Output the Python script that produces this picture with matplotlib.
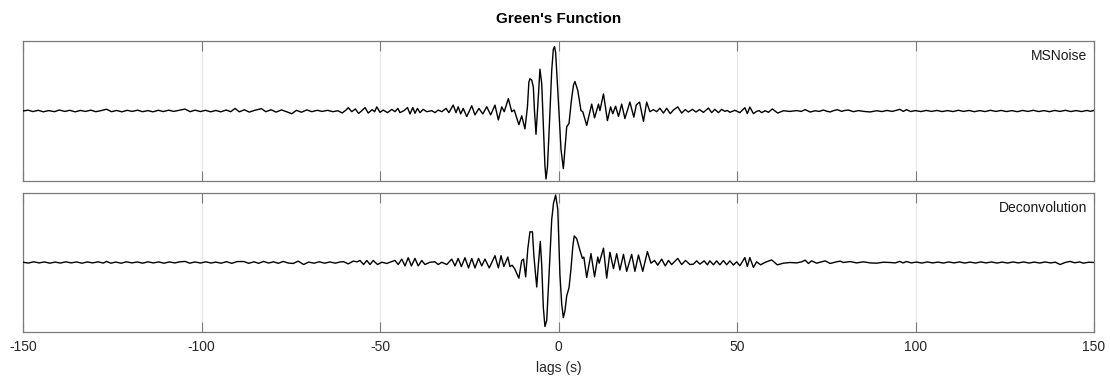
import matplotlib
matplotlib.use("Agg")
import matplotlib.pyplot as plt

plt.rcParams['font.family'] = ['Liberation Sans', 'DejaVu Sans']
plt.rcParams['axes.unicode_minus'] = False

# ---------------- data: (lag [s], normalised amplitude) ----------------
xticks = [-150, -100, -50, 0, 50, 100, 150]
panel_names = ["MSNoise", "Deconvolution"]

msn_far_left = [(-150.0, 0.0), (-148.6, 0.012), (-147.2, -0.008), (-145.7, 0.010), (-144.3, -0.012),
    (-142.8, 0.006), (-141.2, -0.010), (-139.8, 0.014), (-138.3, -0.006), (-136.9, 0.010),
    (-135.4, -0.012), (-133.9, 0.008), (-132.5, -0.006), (-131.0, 0.012), (-129.6, -0.010),
    (-128.1, 0.006), (-126.6, 0.026), (-125.2, -0.010), (-123.8, 0.008), (-122.3, -0.012),
    (-120.8, 0.010), (-119.4, -0.006), (-117.9, 0.012), (-116.5, -0.010), (-115.0, 0.006),
    (-113.6, -0.012), (-112.1, 0.010), (-110.7, -0.008), (-109.2, 0.012), (-107.8, -0.006),
    (-106.3, 0.010), (-104.6, 0.028), (-103.2, -0.010), (-101.8, 0.012), (-100.3, -0.008),
    (-98.9, 0.010), (-97.4, -0.012), (-96.0, 0.008)]
msn_left = [(-94.6, -0.012), (-93.1, 0.014), (-91.8, -0.010), (-90.6, 0.038), (-89.4, -0.012),
    (-88.0, 0.018), (-86.6, -0.016), (-85.1, 0.010), (-83.2, 0.034), (-82.0, -0.010),
    (-80.5, 0.018), (-79.1, -0.016), (-77.6, 0.016), (-76.2, -0.010), (-74.7, -0.040),
    (-73.4, 0.010), (-72.0, -0.018), (-70.5, 0.016), (-69.1, -0.010), (-67.6, 0.010),
    (-66.2, -0.006), (-64.7, 0.010), (-63.2, -0.010), (-61.8, 0.004), (-60.6, -0.028),
    (-59.6, 0.010), (-58.9, 0.048), (-57.9, -0.010), (-56.9, 0.030), (-56.0, -0.036),
    (-55.1, 0.004), (-54.2, 0.050), (-53.3, -0.030), (-52.2, 0.020), (-51.5, -0.010),
    (-50.9, 0.060), (-50.0, -0.020)]
msn_precursor = [(-49.1, 0.014), (-47.9, -0.024), (-46.7, 0.024), (-45.8, -0.010), (-45.0, 0.038),
    (-44.4, -0.024), (-43.3, 0.005), (-42.3, 0.050), (-41.6, -0.043), (-40.8, 0.050),
    (-40.2, -0.033), (-39.5, 0.038), (-38.8, -0.024), (-37.9, 0.024), (-36.9, -0.010),
    (-35.5, 0.005), (-34.6, -0.024), (-33.7, 0.014), (-32.7, -0.010), (-31.5, 0.038),
    (-30.7, -0.024), (-29.5, 0.086), (-28.7, -0.024), (-28.1, 0.062), (-27.4, -0.043),
    (-26.7, 0.038), (-25.7, -0.081), (-24.3, 0.076), (-23.4, -0.057), (-22.3, 0.038),
    (-21.2, -0.043), (-20.1, 0.062), (-19.0, -0.057), (-17.8, 0.086)]
msn_main = [(-16.85, -0.13), (-15.9, 0.06), (-15.2, -0.01), (-14.05, 0.18), (-13.1, -0.01),
    (-12.4, 0.015), (-11.1, -0.20), (-10.3, -0.07), (-9.4, -0.26), (-8.7, 0.06), (-8.3, 0.42),
    (-8.0, 0.47), (-7.5, 0.45), (-7.05, 0.35), (-6.75, 0.02), (-6.3, -0.34), (-5.75, 0.12),
    (-5.2, 0.61), (-4.7, 0.40), (-4.25, -0.20), (-3.8, -0.80), (-3.5, -0.99), (-3.1, -0.82),
    (-2.55, -0.20), (-1.9, 0.59), (-1.45, 0.90), (-1.1, 0.94), (-0.8, 0.85), (-0.05, 0.16),
    (0.7, -0.56), (1.36, -0.84), (1.8, -0.56), (2.3, -0.23), (2.95, -0.18), (3.6, 0.15),
    (4.2, 0.38), (4.6, 0.43), (5.4, 0.30), (6.3, 0.005), (6.8, -0.01), (7.9, -0.21),
    (9.3, 0.10), (10.1, -0.10), (11.2, 0.10), (11.6, 0.005), (12.6, 0.25), (13.7, -0.14),
    (14.6, 0.06), (15.2, -0.04), (16.0, 0.07), (16.8, -0.08), (17.7, 0.10), (18.6, -0.11),
    (20.0, 0.13), (21.1, -0.09), (21.8, 0.09), (22.7, 0.13), (23.8, -0.15), (24.7, 0.13),
    (25.6, -0.01), (26.6, 0.02), (27.5, -0.01), (28.4, 0.04), (29.4, -0.03), (30.3, 0.04),
    (31.3, -0.04), (32.2, 0.015), (33.4, 0.06), (34.5, -0.03), (35.5, 0.02), (36.4, -0.015),
    (37.5, 0.024)]
msn_coda = [(38.5, -0.015), (39.5, 0.020), (40.6, -0.020), (42.0, 0.043), (42.9, -0.024),
    (43.8, 0.024), (44.8, -0.024), (45.7, 0.024), (46.6, -0.005), (47.3, 0.008), (48.0, -0.019),
    (49.4, 0.010), (50.8, -0.024), (52.2, 0.048), (52.9, -0.038), (53.6, 0.057), (54.6, -0.038),
    (55.5, -0.005), (56.2, 0.006), (56.9, -0.024), (57.9, 0.004), (58.8, -0.019), (59.9, 0.030),
    (61.4, -0.030)]
msn_far_right = [(63.0, 0.004), (64.8, -0.006), (66.7, 0.006), (68.0, -0.006), (69.1, 0.020),
    (70.5, -0.015), (71.9, 0.004), (73.0, -0.006), (74.2, 0.014), (75.2, -0.004), (76.1, -0.014),
    (77.1, 0.006), (78.1, 0.019), (79.3, -0.005), (80.2, 0.008), (81.2, 0.014), (82.6, -0.010),
    (84.0, 0.006), (85.5, -0.006), (87.3, -0.014), (89.1, 0.004), (90.6, -0.008), (92.0, 0.008),
    (93.5, -0.006), (94.6, 0.010), (95.6, 0.024), (96.6, -0.006), (97.5, 0.020), (98.6, -0.008),
    (100.0, 0.006), (101.5, -0.008), (103.0, 0.008), (104.5, -0.006), (106.0, 0.008),
    (107.5, -0.008), (109.0, 0.006), (110.5, -0.008), (112.0, 0.010), (113.5, -0.006),
    (115.0, 0.008), (116.5, -0.010), (118.0, 0.006), (119.5, -0.008), (121.0, 0.010),
    (122.5, -0.006), (124.0, 0.008), (125.5, -0.008), (127.0, 0.006), (128.5, -0.010),
    (130.0, 0.008), (131.5, -0.006), (133.0, 0.010), (134.5, -0.008), (136.0, 0.006),
    (137.5, -0.010), (139.0, 0.008), (140.5, -0.006), (142.0, 0.010), (143.5, -0.008),
    (145.0, 0.006), (146.5, -0.008), (148.0, 0.008), (149.0, -0.004), (150.0, 0.008)]

dec_far_left = [(-150.0, 0.004), (-148.5, -0.008), (-147.0, 0.010), (-145.5, -0.006), (-144.0, 0.008),
    (-142.5, -0.010), (-141.0, 0.006), (-139.5, -0.008), (-138.0, 0.010), (-136.5, -0.006),
    (-135.0, 0.008), (-133.5, -0.010), (-132.0, 0.008), (-130.5, -0.006), (-129.0, 0.010),
    (-127.5, -0.008), (-126.6, 0.016), (-125.4, -0.010), (-124.0, 0.006), (-122.5, -0.010),
    (-121.0, 0.010), (-119.5, -0.006), (-118.0, 0.008), (-116.5, -0.010), (-115.0, 0.010),
    (-113.5, -0.006), (-112.0, 0.008), (-110.5, -0.010), (-109.0, 0.008), (-107.5, -0.006),
    (-106.0, 0.010), (-104.6, 0.016), (-103.3, -0.010), (-101.8, 0.008), (-100.3, -0.008),
    (-98.8, 0.010), (-97.3, -0.008), (-96.0, 0.006)]
dec_left = [(-94.5, -0.010), (-93.0, 0.012), (-91.5, -0.012), (-90.0, 0.014), (-88.1, 0.014),
    (-86.8, -0.012), (-85.3, 0.010), (-84.0, -0.012), (-82.6, 0.016), (-81.2, -0.008),
    (-79.8, 0.010), (-78.5, -0.012), (-77.1, 0.016), (-75.7, -0.008), (-74.3, -0.014),
    (-72.9, 0.020), (-71.4, -0.030), (-70.0, 0.006), (-68.5, -0.010), (-67.0, 0.010),
    (-65.5, -0.010), (-64.0, 0.008), (-62.5, -0.010), (-61.2, 0.008), (-60.2, 0.012),
    (-58.9, -0.020), (-57.5, 0.020), (-56.4, 0.010), (-55.6, 0.030), (-54.6, -0.030),
    (-53.7, 0.030), (-52.8, -0.030), (-51.9, 0.030), (-50.7, -0.030)]
dec_precursor = [(-49.5, 0.004), (-48.1, -0.014), (-46.7, 0.014), (-45.8, 0.030), (-44.9, -0.030),
    (-43.9, 0.050), (-43.0, -0.050), (-42.1, 0.070), (-41.2, -0.050), (-40.2, 0.060),
    (-39.3, -0.050), (-38.3, 0.030), (-37.4, -0.030), (-36.0, 0.004), (-34.6, 0.010),
    (-33.7, -0.030), (-32.7, 0.004), (-31.3, -0.030), (-29.9, 0.050), (-29.0, -0.050),
    (-28.1, 0.060), (-27.2, -0.060), (-26.2, 0.070), (-25.2, -0.080), (-24.3, 0.060),
    (-23.4, -0.080), (-22.4, 0.060), (-21.5, -0.050), (-20.6, 0.050), (-19.4, -0.080)]
dec_main = [(-17.8, 0.10), (-16.85, -0.08), (-16.1, 0.10), (-15.3, -0.06), (-14.2, 0.08),
    (-13.6, -0.06), (-13.0, -0.04), (-12.3, -0.09), (-11.1, -0.23), (-10.3, 0.03), (-9.8, 0.05),
    (-9.2, -0.21), (-8.6, 0.20), (-8.0, 0.45), (-7.3, 0.45), (-6.9, 0.10), (-6.1, -0.36),
    (-5.65, -0.04), (-5.1, 0.31), (-4.7, -0.04), (-4.25, -0.66), (-3.8, -0.94), (-3.3, -0.85),
    (-2.65, -0.18), (-1.9, 0.63), (-1.4, 0.87), (-0.8, 0.99), (-0.2, 0.78), (0.4, -0.18),
    (0.9, -0.61), (1.35, -0.81), (1.8, -0.71), (2.3, -0.49), (2.95, -0.37), (3.5, -0.09),
    (4.0, 0.23), (4.4, 0.39), (5.1, 0.35), (6.0, 0.18), (6.7, 0.06), (7.1, 0.08), (7.9, -0.22),
    (9.1, 0.13), (10.1, -0.21), (11.0, 0.08), (11.4, -0.01), (12.6, 0.21), (13.5, -0.23),
    (14.4, 0.15), (15.4, -0.09), (16.3, 0.13), (17.2, -0.11), (18.2, 0.12), (19.1, -0.13),
    (20.5, 0.12), (21.4, -0.13), (22.4, 0.11), (23.6, -0.13), (24.9, 0.16), (25.9, -0.01),
    (26.9, 0.03), (27.8, -0.04), (28.9, 0.05), (29.9, -0.05), (30.8, 0.03), (31.7, -0.03),
    (33.4, 0.06), (34.5, -0.03), (35.6, 0.03), (36.8, -0.03)]
dec_coda = [(37.8, -0.024), (38.7, 0.024), (39.6, -0.024), (40.8, 0.024), (41.7, -0.034),
    (42.4, 0.024), (43.4, -0.034), (44.3, 0.024), (45.2, -0.034), (46.2, 0.029), (47.1, -0.034),
    (48.0, 0.024), (49.0, -0.038), (49.9, 0.010), (50.8, -0.048), (52.2, 0.072), (52.9, -0.058),
    (53.6, 0.072), (54.6, -0.072), (55.5, 0.010), (56.6, -0.034), (57.8, 0.000), (59.7, 0.038),
    (61.3, -0.034), (63.0, -0.010), (64.9, 0.000), (66.7, -0.006), (68.1, 0.010), (69.1, 0.034),
    (70.0, -0.014), (70.9, 0.024), (72.3, -0.010), (73.7, 0.010), (74.7, 0.024), (76.1, -0.014),
    (77.9, 0.010), (78.9, 0.020), (79.8, 0.000), (81.7, 0.014), (83.5, -0.006), (85.4, 0.010),
    (87.3, -0.006), (89.1, -0.010), (91.0, 0.004), (92.9, 0.000)]
dec_far_right = [(94.3, -0.006), (95.6, 0.016), (96.5, -0.006), (97.5, 0.014), (98.8, -0.006),
    (100.3, 0.006), (101.8, -0.008), (103.3, 0.008), (104.8, -0.006), (106.3, 0.006),
    (107.8, -0.008), (109.3, 0.008), (110.8, -0.006), (112.3, 0.008), (113.8, -0.008),
    (115.3, 0.006), (116.8, -0.008), (118.3, 0.008), (119.8, -0.006), (121.3, 0.008),
    (122.8, -0.008), (124.3, 0.006), (125.8, -0.008), (127.3, 0.008), (128.8, -0.006),
    (130.3, 0.008), (131.8, -0.008), (133.3, 0.006), (134.8, -0.008), (136.3, 0.008),
    (137.8, -0.006), (139.2, 0.004), (140.5, -0.030), (141.9, 0.000), (143.3, 0.016),
    (144.6, -0.004), (146.0, 0.008), (147.0, -0.010), (148.5, 0.004), (150.0, 0.000)]

msnoise = msn_far_left + msn_left + msn_precursor + msn_main + msn_coda + msn_far_right
deconv = dec_far_left + dec_left + dec_precursor + dec_main + dec_coda + dec_far_right

# ---------------- figure ----------------
W, H = 1110, 378
fig = plt.figure(figsize=(W / 100, H / 100), dpi=100)
left, right = 23 / W, 1094 / W
ax1 = fig.add_axes([left, 1 - 181 / H, right - left, 140 / H])
ax2 = fig.add_axes([left, 1 - 332 / H, right - left, 139 / H])

spine_col = '#7a7a7a'
for ax, series, name in [(ax1, msnoise, panel_names[0]), (ax2, deconv, panel_names[1])]:
    lag, amp = zip(*series)
    ax.plot(lag, amp, color='black', lw=1.0, zorder=3)
    ax.set_xlim(-150, 150)
    ax.set_ylim(-1.02, 1.02)
    ax.set_xticks(xticks)
    ax.set_yticks([])
    ax.grid(axis='x', color='#e6e6e6', lw=0.8, zorder=0)
    ax.set_axisbelow(True)
    ax.tick_params(axis='x', direction='in', length=7.5, width=0.8, top=True,
                   color=spine_col, labelsize=10, labelcolor='#262626', pad=6)
    for s in ax.spines.values():
        s.set_color(spine_col)
        s.set_linewidth(0.9)
    ax.text(0.9935, 0.945, name, transform=ax.transAxes, ha='right', va='top',
            fontsize=10, color='#1a1a1a')

ax1.tick_params(axis='x', labelbottom=False)
ax2.set_xlabel('lags (s)', fontsize=10, color='#262626', labelpad=5)
fig.text((23 + 1094) / 2 / W, 1 - 19 / H, "Green's Function", ha='center', va='center',
         fontsize=11, fontweight='bold', color='black')

fig.savefig('out.png', dpi=100)
